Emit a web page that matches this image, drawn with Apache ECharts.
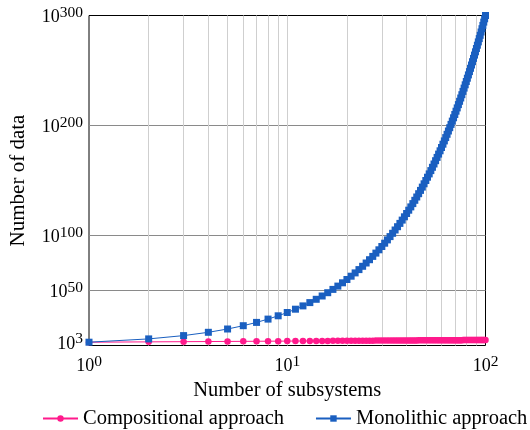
<!DOCTYPE html>
<html>
<head>
<meta charset="utf-8">
<script src="https://cdn.jsdelivr.net/npm/echarts@6/dist/echarts.min.js"></script>
<style>
  html, body { margin: 0; padding: 0; background: #fff; }
  #chart { width: 530px; height: 430px; }
</style>
</head>
<body>
<div id="chart"></div>
<script>
// Number of subsystems (x values)
const subsystems = [
  1, 2, 3, 4, 5, 6, 7, 8, 9, 10,
  11, 12, 13, 14, 15, 16, 17, 18, 19, 20,
  21, 22, 23, 24, 25, 26, 27, 28, 29, 30,
  31, 32, 33, 34, 35, 36, 37, 38, 39, 40,
  41, 42, 43, 44, 45, 46, 47, 48, 49, 50,
  51, 52, 53, 54, 55, 56, 57, 58, 59, 60,
  61, 62, 63, 64, 65, 66, 67, 68, 69, 70,
  71, 72, 73, 74, 75, 76, 77, 78, 79, 80,
  81, 82, 83, 84, 85, 86, 87, 88, 89, 90,
  91, 92, 93, 94, 95, 96, 97, 98, 99, 100
];

// Compositional approach: amount of data per number of subsystems
const compositional = [
  1000, 2000, 3000, 4000, 5000, 6000, 7000, 8000, 9000, 10000,
  11000, 12000, 13000, 14000, 15000, 16000, 17000, 18000, 19000, 20000,
  21000, 22000, 23000, 24000, 25000, 26000, 27000, 28000, 29000, 30000,
  31000, 32000, 33000, 34000, 35000, 36000, 37000, 38000, 39000, 40000,
  41000, 42000, 43000, 44000, 45000, 46000, 47000, 48000, 49000, 50000,
  51000, 52000, 53000, 54000, 55000, 56000, 57000, 58000, 59000, 60000,
  61000, 62000, 63000, 64000, 65000, 66000, 67000, 68000, 69000, 70000,
  71000, 72000, 73000, 74000, 75000, 76000, 77000, 78000, 79000, 80000,
  81000, 82000, 83000, 84000, 85000, 86000, 87000, 88000, 89000, 90000,
  91000, 92000, 93000, 94000, 95000, 96000, 97000, 98000, 99000, 100000
];

// Monolithic approach: amount of data per number of subsystems
const monolithic = [
  1e3, 1e6, 1e9, 1e12, 1e15, 1e18, 1e21, 1e24, 1e27, 1e30,
  1e33, 1e36, 1e39, 1e42, 1e45, 1e48, 1e51, 1e54, 1e57, 1e60,
  1e63, 1e66, 1e69, 1e72, 1e75, 1e78, 1e81, 1e84, 1e87, 1e90,
  1e93, 1e96, 1e99, 1e102, 1e105, 1e108, 1e111, 1e114, 1e117, 1e120,
  1e123, 1e126, 1e129, 1e132, 1e135, 1e138, 1e141, 1e144, 1e147, 1e150,
  1e153, 1e156, 1e159, 1e162, 1e165, 1e168, 1e171, 1e174, 1e177, 1e180,
  1e183, 1e186, 1e189, 1e192, 1e195, 1e198, 1e201, 1e204, 1e207, 1e210,
  1e213, 1e216, 1e219, 1e222, 1e225, 1e228, 1e231, 1e234, 1e237, 1e240,
  1e243, 1e246, 1e249, 1e252, 1e255, 1e258, 1e261, 1e264, 1e267, 1e270,
  1e273, 1e276, 1e279, 1e282, 1e285, 1e288, 1e291, 1e294, 1e297, 1e300
];

// Axis tick positions
const xTickLabels = [1, 10, 100];
const xGridValues = [1, 2, 3, 4, 5, 6, 7, 8, 9, 10, 20, 30, 40, 50, 60, 70, 80, 90, 100];
const yTickLabels = [1e3, 1e50, 1e100, 1e200, 1e300];

const seriesNames = ['Compositional approach', 'Monolithic approach'];

const serif = 'Liberation Serif';
const pink = '#ff1a8c';
const blue = '#1a5fc0';

function pow10Label(value) {
  const e = Math.round(Math.log10(value));
  return '{b|10}{s|' + e + '}';
}

const powRich = {
  b: { fontFamily: serif, fontSize: 18, color: '#000', verticalAlign: 'bottom' },
  s: { fontFamily: serif, fontSize: 15.5, color: '#000', verticalAlign: 'bottom', padding: [0, 0, 6, 0] }
};

const chart = echarts.init(document.getElementById('chart'), null, { renderer: 'canvas' });

chart.setOption({
  animation: false,
  backgroundColor: '#fff',
  grid: {
    // half-pixel edges keep the 1px frame crisp
    left: 88.5, right: 44.5, top: 15.5, bottom: 84.5,
    show: true, borderColor: '#000', borderWidth: 1, backgroundColor: 'transparent'
  },
  legend: {
    top: 408,
    left: 42,
    padding: 0,
    itemWidth: 35,
    itemHeight: 8,
    itemGap: 31,
    textStyle: { fontFamily: serif, fontSize: 20.5, color: '#000' },
    data: seriesNames
  },
  xAxis: {
    type: 'log',
    logBase: 10,
    min: 1,
    max: 100,
    name: 'Number of subsystems',
    nameLocation: 'middle',
    nameGap: 32,
    nameTextStyle: { fontFamily: serif, fontSize: 20.5, color: '#000' },
    axisLine: { show: false },
    axisTick: { show: false, customValues: xGridValues },
    axisLabel: {
      customValues: xTickLabels,
      formatter: pow10Label,
      rich: powRich,
      margin: 8,
      showMinLabel: true,
      showMaxLabel: true
    },
    splitLine: {
      show: true,
      showMinLine: false,
      showMaxLine: false,
      lineStyle: { color: '#cfcfcf', width: 1 }
    }
  },
  yAxis: {
    type: 'log',
    logBase: 10,
    min: 1,
    max: 1.000001e300,
    name: 'Number of data',
    nameLocation: 'middle',
    nameRotate: 90,
    nameGap: 60,
    nameTextStyle: { fontFamily: serif, fontSize: 21, color: '#000' },
    axisLine: { show: false },
    axisTick: { show: false, customValues: yTickLabels },
    axisLabel: {
      customValues: yTickLabels,
      formatter: pow10Label,
      rich: powRich,
      margin: 6,
      showMinLabel: true,
      showMaxLabel: true
    },
    splitLine: {
      show: true,
      showMinLine: false,
      showMaxLine: false,
      lineStyle: { color: '#8a8a8a', width: 1 }
    }
  },
  series: [
    {
      name: seriesNames[0],
      type: 'line',
      data: subsystems.map((n, i) => [n, compositional[i]]),
      symbol: 'circle',
      symbolSize: 6.5,
      showAllSymbol: true,
      lineStyle: { color: pink, width: 1 },
      itemStyle: { color: pink },
      z: 3
    },
    {
      name: seriesNames[1],
      type: 'line',
      data: subsystems.map((n, i) => [n, monolithic[i]]),
      symbol: 'rect',
      symbolSize: 7,
      showAllSymbol: true,
      lineStyle: { color: blue, width: 1 },
      itemStyle: { color: blue },
      z: 4
    }
  ]
});
</script>
</body>
</html>
